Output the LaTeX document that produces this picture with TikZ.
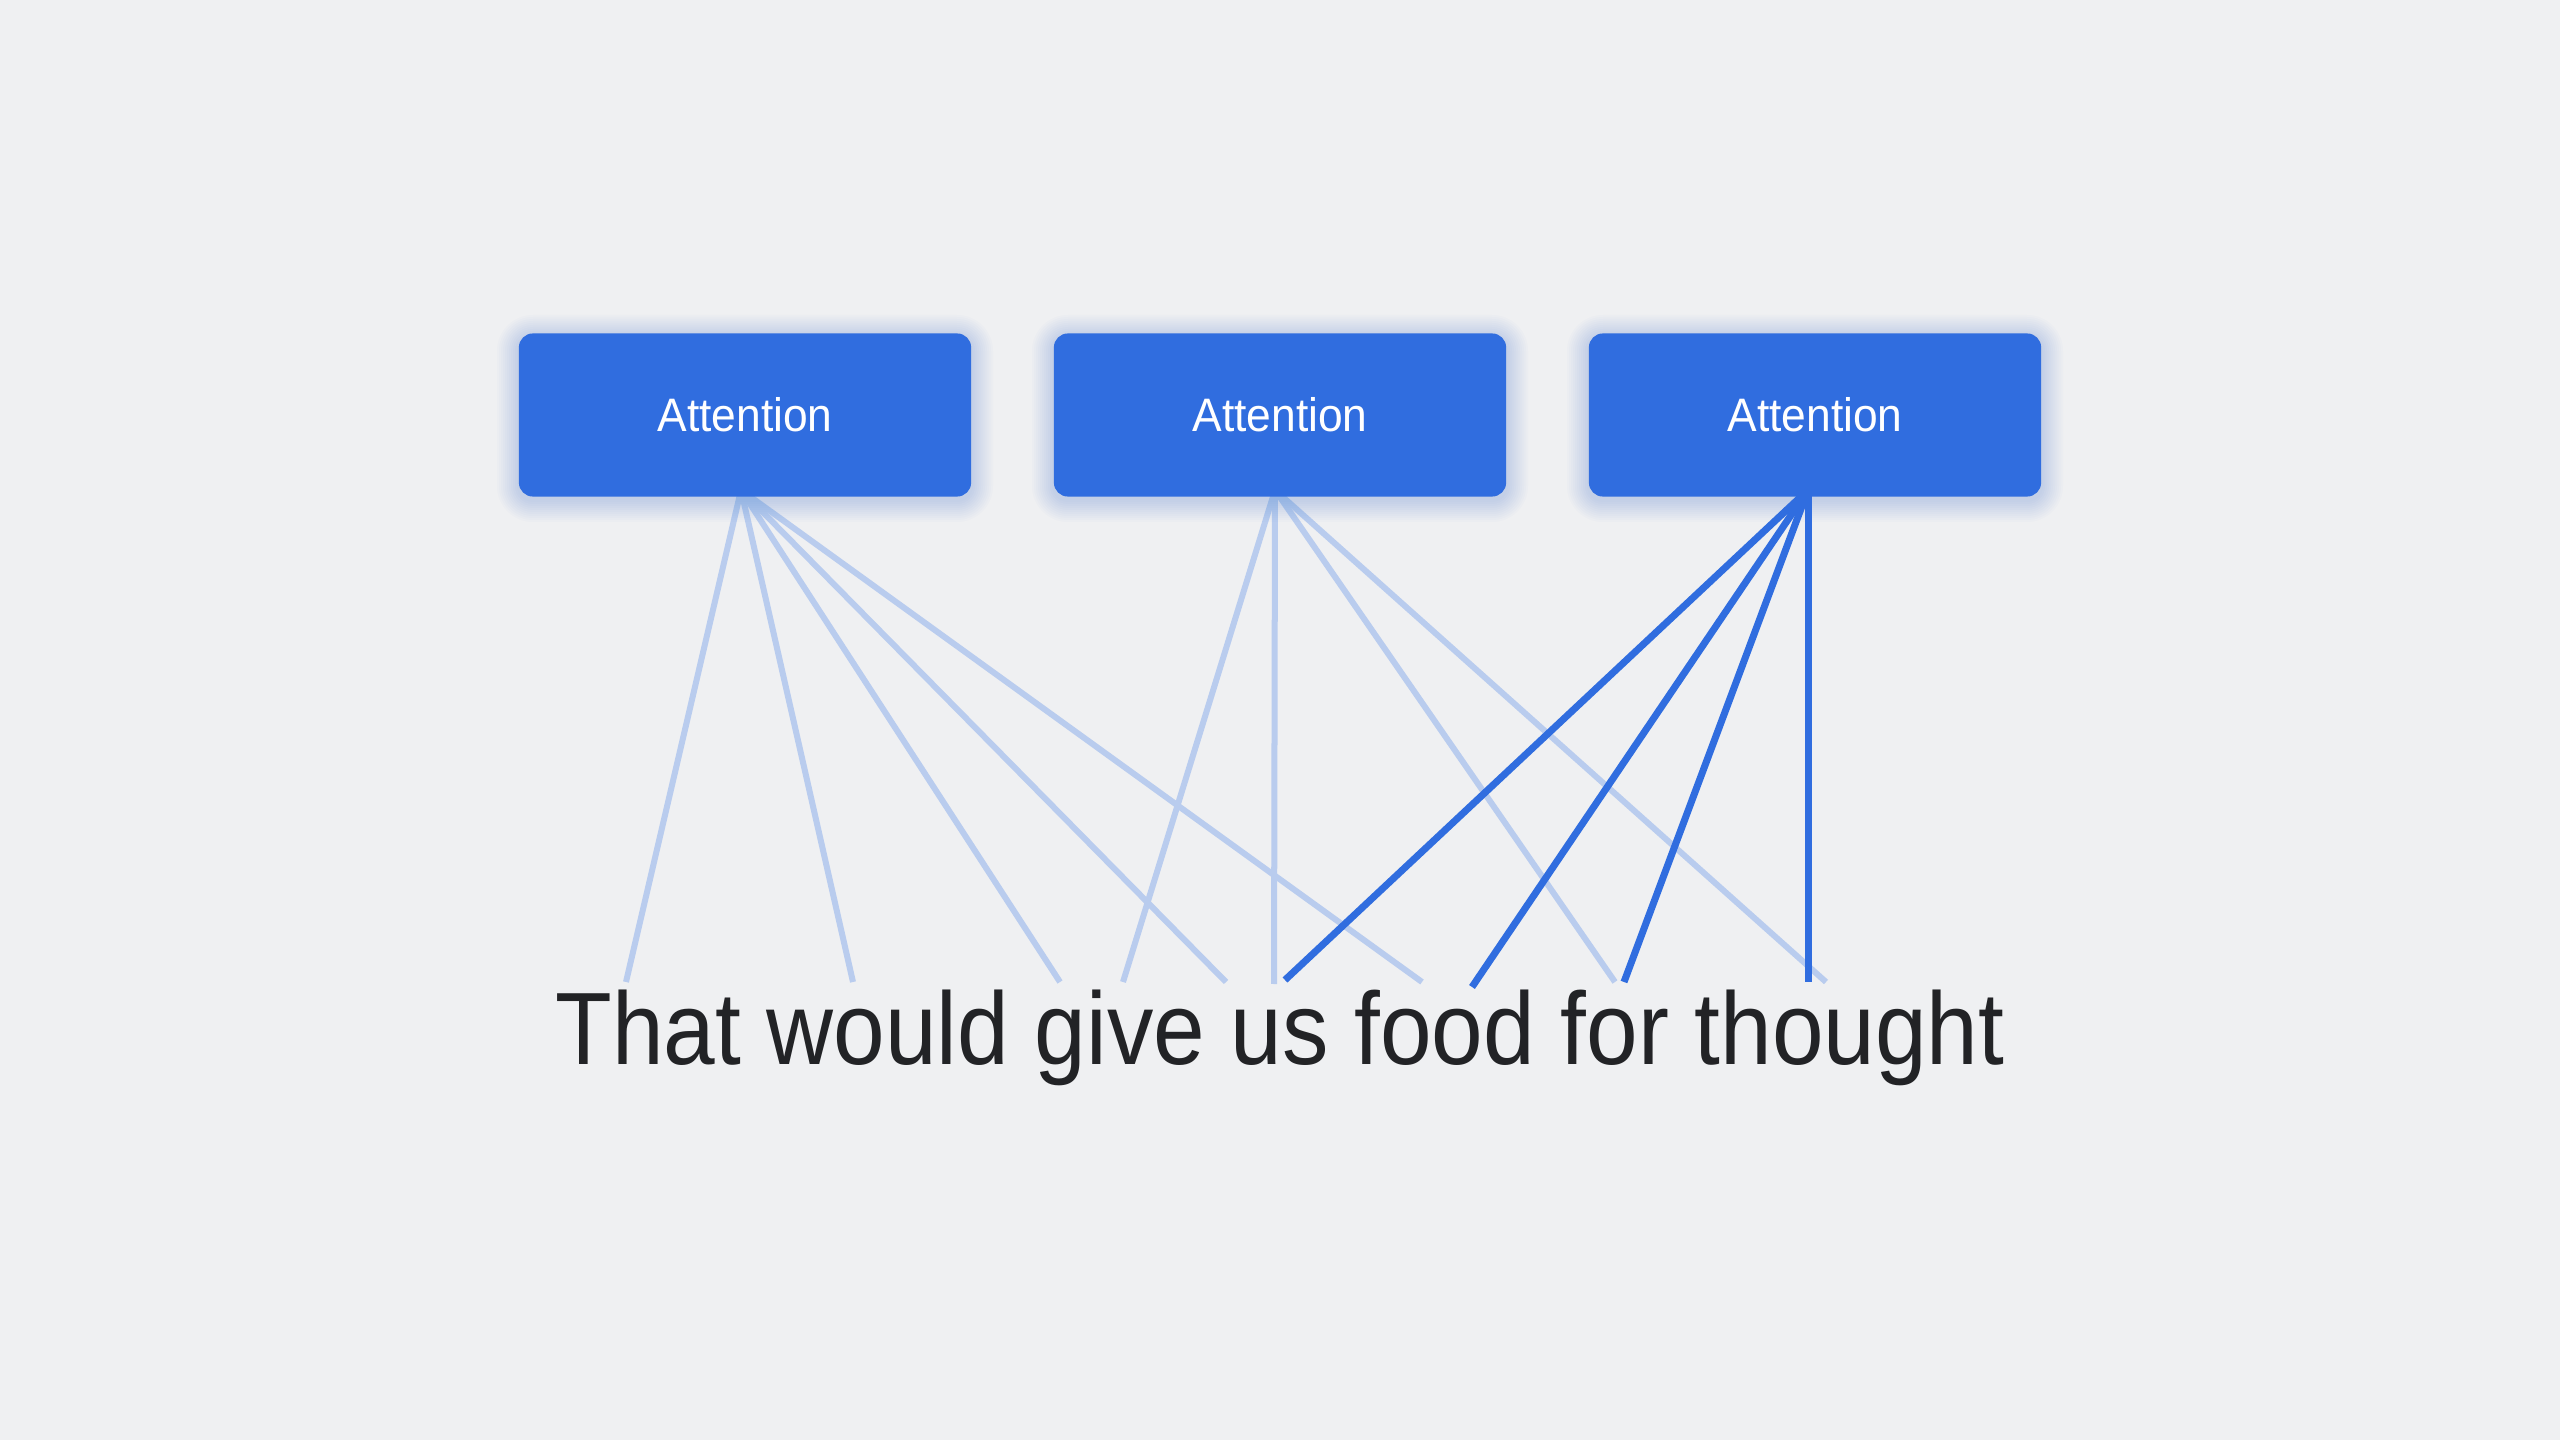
\documentclass[tikz,border=0pt]{standalone}
\usepackage{fontspec}
\setmainfont{Liberation Sans}
\definecolor{bgc}{HTML}{EFF0F2}
\definecolor{boxblue}{HTML}{306DDF}
\definecolor{lightln}{HTML}{B9CCEE}
\definecolor{txt}{HTML}{222326}
\begin{document}
\begin{tikzpicture}[x=0.01cm,y=-0.01cm,
  attbox/.style={fill=boxblue, rounded corners=0.14cm, minimum width=4.52cm,
    minimum height=1.63cm, inner sep=0pt, text=white},
  faint/.style={draw=lightln, line width=0.06cm},
  strong/.style={draw=boxblue, line width=0.07cm},
  glow/.style={fill=boxblue, opacity=0.018}]
\fill[bgc] (0,0) rectangle (2560,1440);
\useasboundingbox (0,0) rectangle (2560,1440);
% origins (behind the boxes)
\coordinate (o1) at (741,490);
\coordinate (o2) at (1275,490);
\coordinate (o3) at (1808,490);
% word ends
\coordinate (a1) at (626,982);
\coordinate (a2) at (853,982);
\coordinate (a3) at (1060,982);
\coordinate (a4) at (1226,982);
\coordinate (a5) at (1422,982);
\coordinate (b1) at (1123,982);
\coordinate (b2) at (1274,984);
\coordinate (b3) at (1615,982);
\coordinate (b4) at (1826,982);
\coordinate (c1) at (1285,980);
\coordinate (c2) at (1472,987);
\coordinate (c3) at (1624,982);
\coordinate (c4) at (1808,982);
% faint connectors
\foreach \e in {a1,a2,a3,a4,a5} \draw[faint] (o1) -- (\e);
\foreach \e in {b1,b2,b3,b4} \draw[faint] (o2) -- (\e);
% strong connectors
\foreach \e in {c1,c2,c3,c4} \draw[strong] (o3) -- (\e);
% glow
\foreach \cx in {745,1280,1815}
  \foreach \s in {2,4,...,22}
    \fill[glow, rounded corners={(14+\s)*0.01cm}]
      (\cx-226-\s,333-\s+4) rectangle (\cx+226+\s,496+\s+4);
% boxes
\node[attbox] (att1) at (745,415) {\resizebox{1.75cm}{0.34cm}{Attention}};
\node[attbox] (att2) at (1280,415) {\resizebox{1.75cm}{0.34cm}{Attention}};
\node[attbox] (att3) at (1815,415) {\resizebox{1.75cm}{0.34cm}{Attention}};
% sentence
\node[anchor=base, text=txt, inner sep=0pt] (sent) at (1280,1064)
  {\resizebox{14.48cm}{0.745cm}{That would give us food for thought}};
\end{tikzpicture}
\end{document}
